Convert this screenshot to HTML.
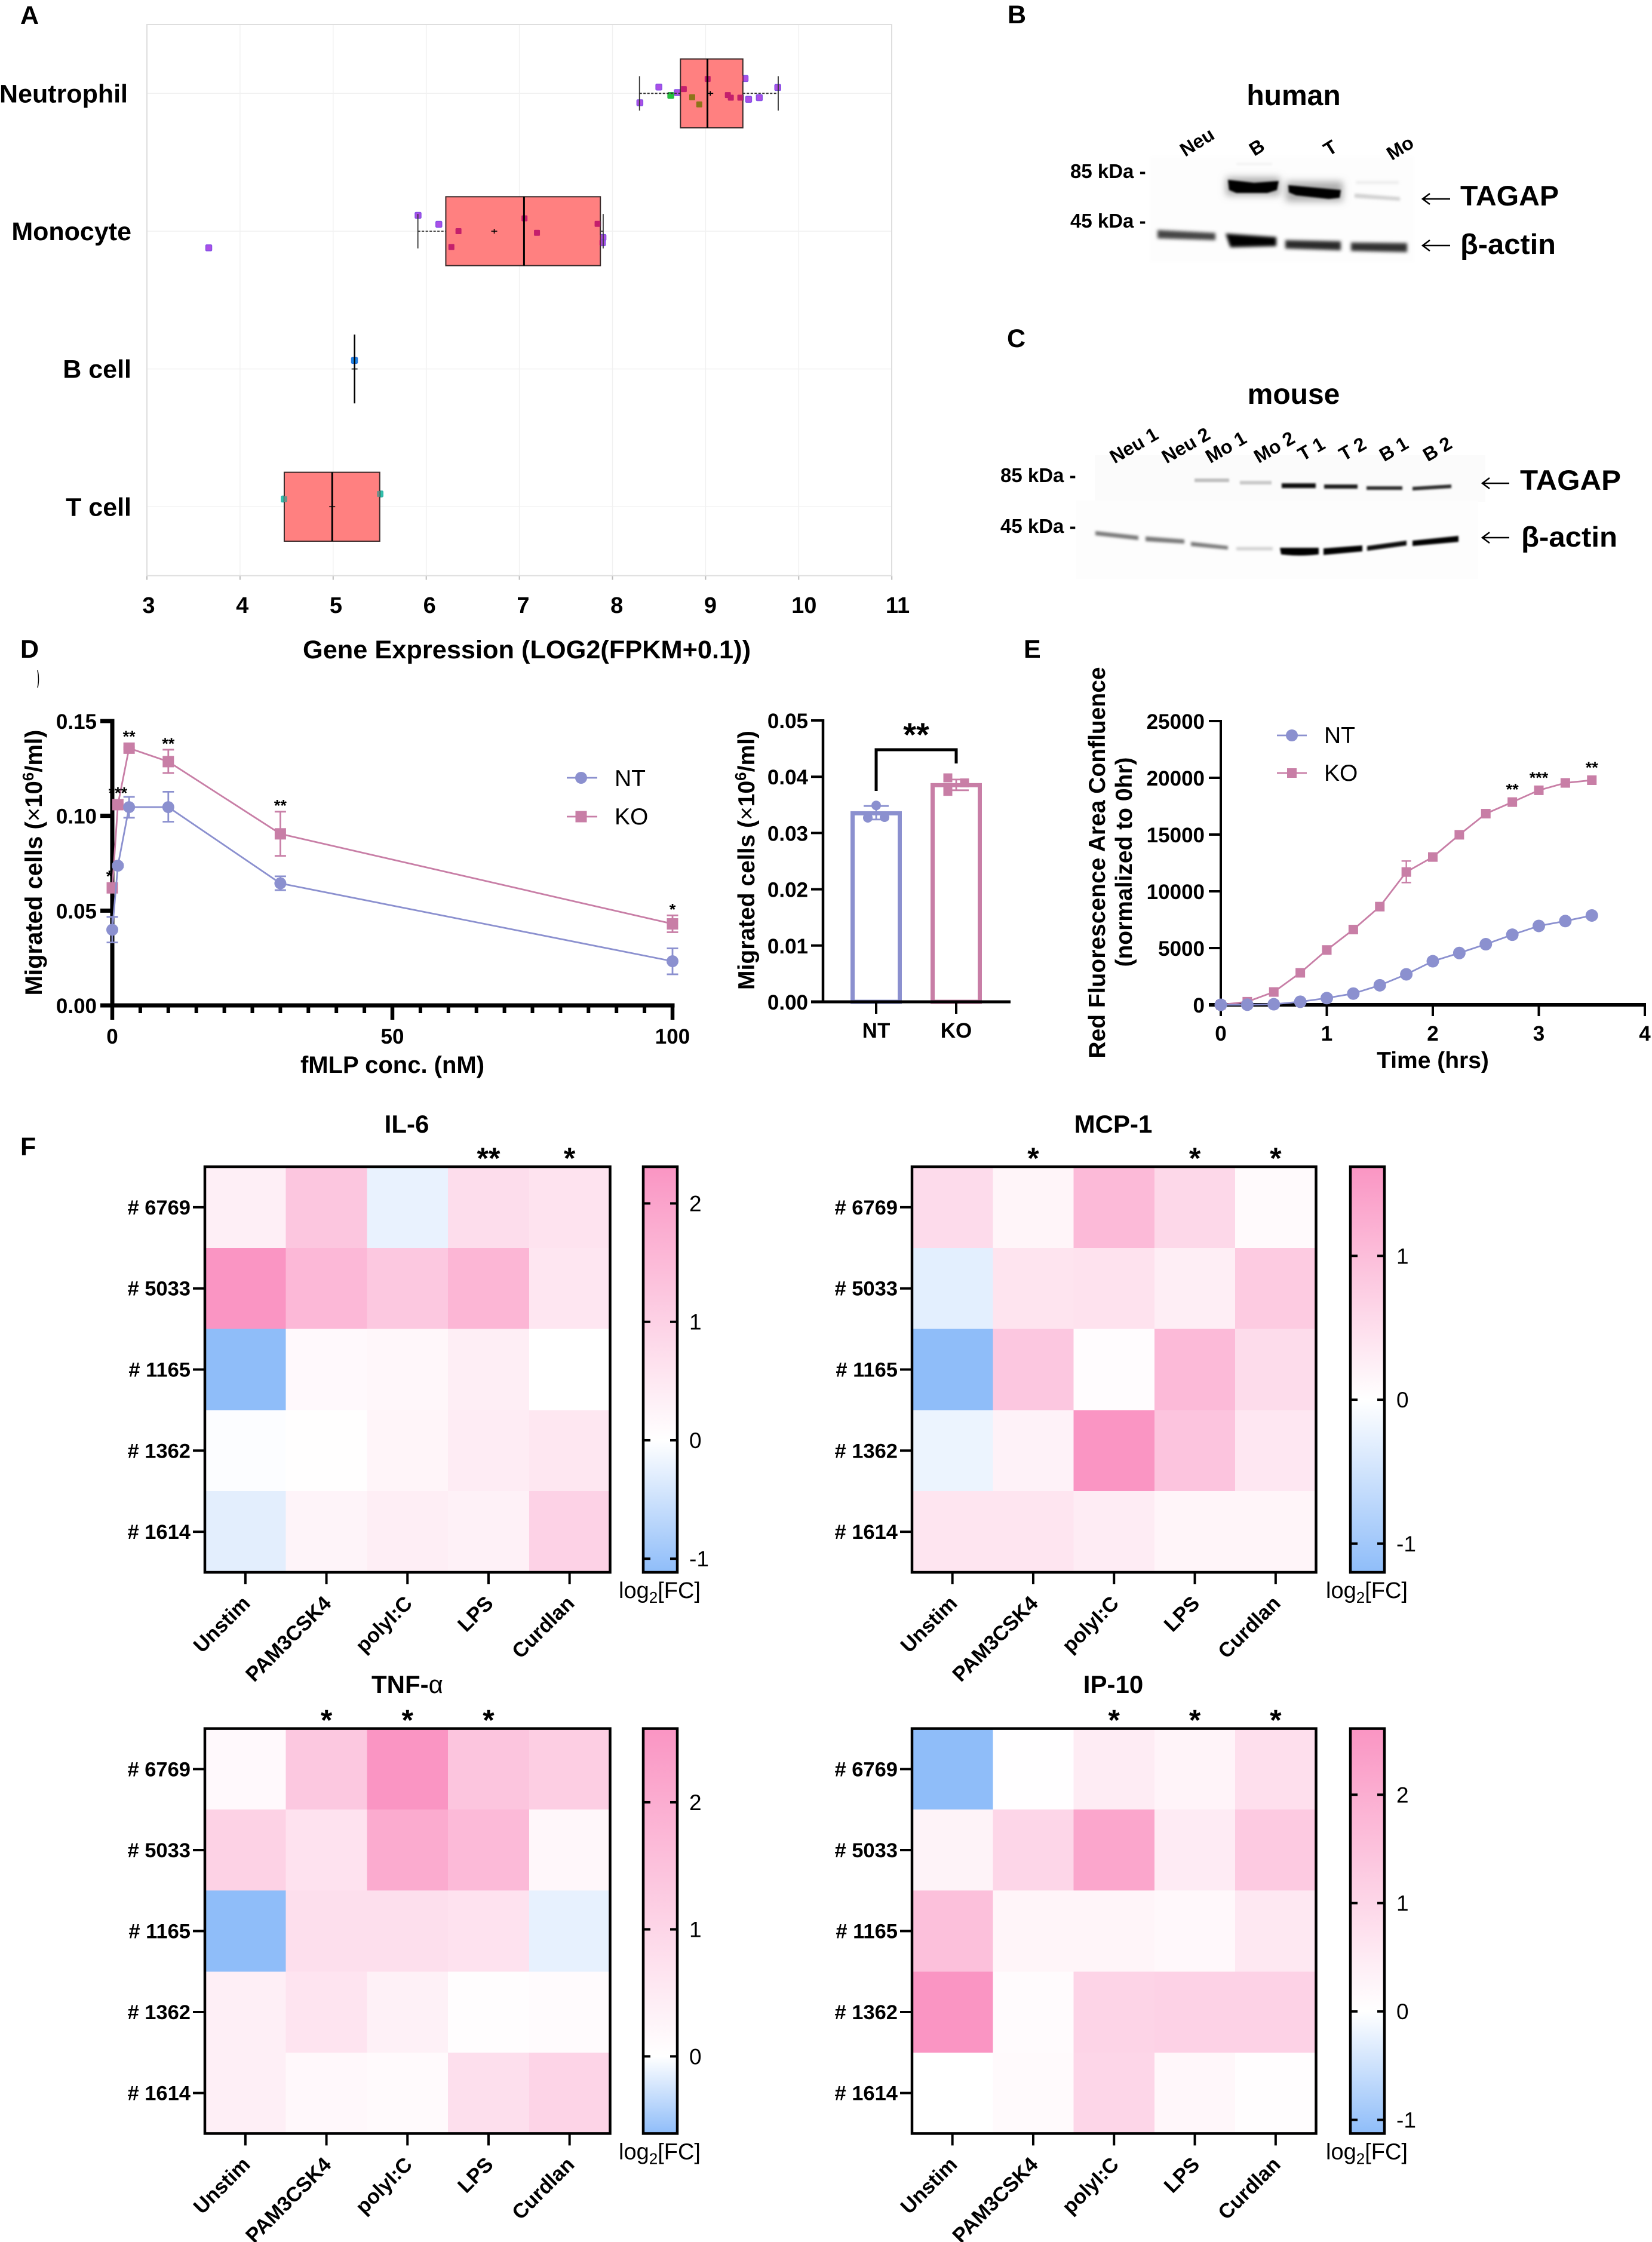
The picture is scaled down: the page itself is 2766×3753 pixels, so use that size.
<!DOCTYPE html>
<html lang="en">
<head>
<meta charset="utf-8">
<title>TAGAP expression figure</title>
<style>
html,body{margin:0;padding:0;background:#fff;}
svg{display:block;font-family:"Liberation Sans",Arial,sans-serif;}
text{fill:#000;}
.b{font-weight:700;}
</style>
</head>
<body>
<svg id="fig" xmlns="http://www.w3.org/2000/svg" width="2766" height="3753" viewBox="0 0 2766 3753">
<defs>
<filter id="blur1" x="-20%" y="-100%" width="140%" height="300%"><feGaussianBlur stdDeviation="1.6"/></filter>
<filter id="blur2" x="-20%" y="-150%" width="140%" height="400%"><feGaussianBlur stdDeviation="2.2"/></filter>
<filter id="blur3" x="-20%" y="-150%" width="140%" height="400%"><feGaussianBlur stdDeviation="3"/></filter>
<filter id="blur6" x="-20%" y="-200%" width="140%" height="500%"><feGaussianBlur stdDeviation="6"/></filter>
</defs>
<rect width="2766" height="3753" fill="#fff"/>

<text class="b" x="34" y="40" font-size="43">A</text>
<text class="b" x="1687" y="39" font-size="43">B</text>
<text class="b" x="1686" y="581" font-size="43">C</text>
<text class="b" x="34" y="1101" font-size="43">D</text>
<text class="b" x="1714" y="1101" font-size="43">E</text>
<text class="b" x="34" y="1934" font-size="43">F</text>

<g id="panelA"></g>
<text class="b" x="882" y="1102" font-size="43" text-anchor="middle" textLength="750" lengthAdjust="spacingAndGlyphs">Gene Expression (LOG2(FPKM+0.1))</text>

<g>
  <rect x="1925" y="262" width="443" height="177" fill="#fdfdfd" filter="url(#blur3)"/>
  <text class="b" x="2166" y="176" font-size="48" text-anchor="middle">human</text>
  <text class="b" font-size="32" text-anchor="middle" transform="translate(2010,247) rotate(-32)">Neu</text>
  <text class="b" font-size="32" text-anchor="middle" transform="translate(2110,256) rotate(-32)">B</text>
  <text class="b" font-size="32" text-anchor="middle" transform="translate(2233,257) rotate(-32)">T</text>
  <text class="b" font-size="32" text-anchor="middle" transform="translate(2350,257) rotate(-32)">Mo</text>
  <text class="b" x="1792" y="298" font-size="33">85 kDa -</text>
  <text class="b" x="1792" y="381" font-size="33">45 kDa -</text>
  <g>
    <path d="M2053 297H2143V327H2053Z" fill="#aaa" filter="url(#blur6)"/>
    <path d="M2153 304H2248V337H2153Z" fill="#aaa" filter="url(#blur6)"/>
    <path d="M2056 301 L2100 306 L2141 303 L2138 318 L2122 323 L2070 323 L2058 318Z" fill="#000" filter="url(#blur1)"/>
    <path d="M2157 310 L2200 314 L2245 318 L2243 331 L2225 333 L2170 327 L2158 322Z" fill="#000" filter="url(#blur1)"/>
    <rect x="2270" y="303" width="72" height="5" fill="#ececec" filter="url(#blur2)"/>
    <path d="M2268 324 L2344 330 L2344 336 L2268 331Z" fill="#d0d0d0" filter="url(#blur2)"/>
    <rect x="2070" y="273" width="60" height="3" fill="#f0f0f0" filter="url(#blur1)"/>
  </g>
  <g>
    <path d="M1938 385 L2035 390 L2035 402 L1938 399Z" fill="#444" filter="url(#blur3)"/>
    <path d="M2052 391 L2137 397 L2137 412 L2060 414Z" fill="#000" filter="url(#blur3)"/>
    <path d="M2152 402 L2245 404 L2245 419 L2152 416Z" fill="#2a2a2a" filter="url(#blur3)"/>
    <path d="M2262 406 L2356 407 L2356 422 L2262 420Z" fill="#333" filter="url(#blur3)"/>
  </g>
  <path d="M2428 333H2383M2394 324L2382 333L2394 342" fill="none" stroke="#000" stroke-width="2.6"/>
  <path d="M2428 411H2383M2394 402L2382 411L2394 420" fill="none" stroke="#000" stroke-width="2.6"/>
  <text class="b" x="2445" y="344" font-size="47" textLength="165" lengthAdjust="spacingAndGlyphs">TAGAP</text>
  <text class="b" x="2445" y="425" font-size="47" textLength="160" lengthAdjust="spacingAndGlyphs">β-actin</text>
</g>

<g>
  <rect x="1833" y="762" width="654" height="78" fill="#fbfbfb"/>
  <rect x="1802" y="838" width="673" height="131" fill="#fdfdfd"/>
  <text class="b" x="2166" y="676" font-size="48" text-anchor="middle">mouse</text>
  <text class="b" font-size="32" text-anchor="middle" transform="translate(1904,755) rotate(-30)">Neu 1</text>
  <text class="b" font-size="32" text-anchor="middle" transform="translate(1991,755) rotate(-30)">Neu 2</text>
  <text class="b" font-size="32" text-anchor="middle" transform="translate(2058,758) rotate(-30)">Mo 1</text>
  <text class="b" font-size="32" text-anchor="middle" transform="translate(2139,758) rotate(-30)">Mo 2</text>
  <text class="b" font-size="32" text-anchor="middle" transform="translate(2201,761) rotate(-30)">T 1</text>
  <text class="b" font-size="32" text-anchor="middle" transform="translate(2270,761) rotate(-30)">T 2</text>
  <text class="b" font-size="32" text-anchor="middle" transform="translate(2339,761) rotate(-30)">B 1</text>
  <text class="b" font-size="32" text-anchor="middle" transform="translate(2412,761) rotate(-30)">B 2</text>
  <text class="b" x="1675" y="807" font-size="33">85 kDa -</text>
  <text class="b" x="1675" y="892" font-size="33">45 kDa -</text>
  <g>
    <rect x="2000" y="801" width="58" height="6" fill="#bdbdbd" filter="url(#blur1)"/>
    <rect x="2076" y="805" width="53" height="6" fill="#c8c8c8" filter="url(#blur1)"/>
    <rect x="2146" y="809" width="57" height="8" fill="#111" filter="url(#blur1)"/>
    <rect x="2217" y="811" width="56" height="7" fill="#1c1c1c" filter="url(#blur1)"/>
    <rect x="2288" y="814" width="60" height="6" fill="#2a2a2a" filter="url(#blur1)"/>
    <path d="M2365 815L2430 811V817L2365 821Z" fill="#2a2a2a" filter="url(#blur1)"/>
  </g>
  <g>
    <path d="M1834 889L1906 897V904L1834 896Z" fill="#777" filter="url(#blur2)"/>
    <path d="M1918 898L1983 903V910L1918 906Z" fill="#777" filter="url(#blur2)"/>
    <path d="M1994 907L2056 914V920L1994 914Z" fill="#777" filter="url(#blur2)"/>
    <rect x="2070" y="916" width="61" height="5" fill="#ccc" filter="url(#blur2)"/>
    <path d="M2143 917H2208V928Q2175 932 2145 928Z" fill="#000" filter="url(#blur1)"/>
    <path d="M2216 918L2281 913V923L2216 929Z" fill="#000" filter="url(#blur1)"/>
    <path d="M2289 914L2355 905V913L2289 922Z" fill="#080808" filter="url(#blur1)"/>
    <path d="M2365 905L2442 897V907L2365 914Z" fill="#000" filter="url(#blur1)"/>
  </g>
  <path d="M2527 809H2483M2494 800L2482 809L2494 818" fill="none" stroke="#000" stroke-width="2.6"/>
  <path d="M2527 900H2483M2494 891L2482 900L2494 909" fill="none" stroke="#000" stroke-width="2.6"/>
  <text class="b" x="2545" y="820" font-size="47" textLength="169" lengthAdjust="spacingAndGlyphs">TAGAP</text>
  <text class="b" x="2547" y="915" font-size="47" textLength="161" lengthAdjust="spacingAndGlyphs">β-actin</text>
</g>

<path d="M63 1122q3 15 0 29" fill="none" stroke="#000" stroke-width="1.5"/>

<g id="panelD"></g>
<text class="b" font-size="40" text-anchor="middle" transform="translate(70,1444) rotate(-90)">Migrated cells (<tspan font-weight="400">×</tspan>10<tspan font-size="26" dy="-14">6</tspan><tspan dy="14">/ml)</tspan></text>
<text class="b" x="657" y="1796" font-size="40" text-anchor="middle">fMLP conc. (nM)</text>
<g>
  <line x1="949" y1="1302" x2="1000" y2="1302" stroke="#8b90cf" stroke-width="2.8"/>
  <circle cx="973" cy="1302" r="10" fill="#8b90cf"/>
  <text x="1029" y="1316" font-size="39">NT</text>
  <line x1="949" y1="1367" x2="1000" y2="1367" stroke="#c87ea6" stroke-width="2.8"/>
  <rect x="963.500" y="1357.500" width="19" height="19" fill="#c87ea6"/>
  <text x="1029" y="1380" font-size="39">KO</text>
</g>

<g id="panelBar"></g>
<text class="b" font-size="39" text-anchor="middle" transform="translate(1263,1440) rotate(-90)">Migrated cells (<tspan font-weight="400">×</tspan>10<tspan font-size="26" dy="-14">6</tspan><tspan dy="14">/ml)</tspan></text>

<g id="panelE"></g>
<text class="b" font-size="39" text-anchor="middle" transform="translate(1850,1444) rotate(-90)">Red Fluorescence Area Confluence</text>
<text class="b" font-size="39" text-anchor="middle" transform="translate(1895,1443) rotate(-90)">(normalized to 0hr)</text>
<text class="b" x="2399" y="1788" font-size="39" text-anchor="middle">Time (hrs)</text>
<g>
  <line x1="2138" y1="1231" x2="2188" y2="1231" stroke="#8b90cf" stroke-width="2.8"/>
  <circle cx="2163" cy="1231" r="10" fill="#8b90cf"/>
  <text x="2217" y="1244" font-size="39">NT</text>
  <line x1="2138" y1="1294" x2="2188" y2="1294" stroke="#c87ea6" stroke-width="2.8"/>
  <rect x="2155" y="1286" width="16" height="16" fill="#c87ea6"/>
  <text x="2217" y="1307" font-size="39">KO</text>
</g>

<g id="heatIL6"></g>
<g id="heatMCP"></g>
<g id="heatTNF"></g>
<g id="heatIP"></g>
<text class="b" x="681" y="1896" font-size="42" text-anchor="middle">IL-6</text>
<text class="b" x="1864" y="1896" font-size="42" text-anchor="middle">MCP-1</text>
<text class="b" x="682" y="2834" font-size="42" text-anchor="middle">TNF-<tspan font-weight="400">α</tspan></text>
<text class="b" x="1864" y="2834" font-size="42" text-anchor="middle">IP-10</text>

<script>
// ---------- Panel A data ----------
const boxCategories = ['Neutrophil', 'Monocyte', 'B cell', 'T cell'];
const boxQ1 = [8.73, 6.21, 5.23, 4.475];
const boxMedian = [9.02, 7.05, 5.23, 4.99];
const boxQ3 = [9.40, 7.87, 5.23, 5.50];
const boxLow = [8.29, 5.91, 5.23, 4.475];
const boxHigh = [9.78, 7.90, 5.23, 5.50];
const boxMean = [9.05, 6.73, 5.23, 4.99];
const boxTicks = [3, 4, 5, 6, 7, 8, 9, 10, 11];
const neutrophilValues = [8.294, 8.498, 8.696, 8.626, 8.766, 8.856, 8.932, 9.022, 9.239, 9.271, 9.373, 9.424, 9.462, 9.577, 9.775];
const neutrophilJitter = [0.068, -0.046, -0.006, 0.015, -0.031, 0.028, 0.08, -0.105, 0.012, 0.031, 0.031, -0.108, 0.043, 0.031, -0.043];
const neutrophilSource = ['p', 'p', 'p', 'g', 'p', 'g', 'g', 'p', 'p', 'p', 'p', 'p', 'p', 'p', 'p'];
const monocyteValues = [3.664, 5.912, 6.135, 6.346, 6.27, 7.055, 7.189, 7.84, 7.898, 7.892];
const monocyteJitter = [0.121, -0.115, -0.05, 0, 0.115, -0.093, 0.012, -0.053, 0.046, 0.084];
const monocyteSource = ['p', 'p', 'p', 'p', 'p', 'p', 'p', 'p', 'p', 'p'];
const bCellValues = [5.229];
const bCellJitter = [-0.062];
const bCellSource = ['b'];
const tCellValues = [4.475, 5.503];
const tCellJitter = [-0.056, -0.093];
const tCellSource = ['t', 't'];

// ---------- Panel D line chart data ----------
const doseValues = [0, 1, 3, 10, 30, 100];
const doseNT = [0.0399, 0.0737, 0.1046, 0.1046, 0.0644, 0.0233];
const doseNTHigh = [0.0467, 0.0745, 0.110, 0.1127, 0.0681, 0.0301];
const doseNTLow = [0.0332, 0.0729, 0.099, 0.0969, 0.0608, 0.0164];
const doseKO = [0.062, 0.1059, 0.1357, 0.1286, 0.0905, 0.043];
const doseKOHigh = [0.0625, 0.1065, 0.1362, 0.1349, 0.1022, 0.0475];
const doseKOLow = [0.0615, 0.1053, 0.1352, 0.1226, 0.0789, 0.0386];
const doseStars = ['*', '***', '**', '**', '**', '*'];
const doseYTicks = [0, 0.05, 0.10, 0.15];
const doseYTickLabels = ['0.00', '0.05', '0.10', '0.15'];
const doseXTicks = [0, 50, 100];

// ---------- Panel D bar chart data ----------
const barCategories = ['NT', 'KO'];
const barValues = [0.0335, 0.0385];
const barHigh = [0.0348, 0.0395];
const barLow = [0.0324, 0.0376];
const barPointsNT = [0.0349, 0.0327, 0.0328];
const barPointsKO = [0.0398, 0.0374, 0.0389];
const barYTicks = [0, 0.01, 0.02, 0.03, 0.04, 0.05];
const barYTickLabels = ['0.00', '0.01', '0.02', '0.03', '0.04', '0.05'];

// ---------- Panel E data ----------
const timeValues = [0, 0.25, 0.5, 0.75, 1, 1.25, 1.5, 1.75, 2, 2.25, 2.5, 2.75, 3, 3.25, 3.5];
const timeNT = [0, 10, 50, 270, 590, 990, 1720, 2685, 3840, 4565, 5340, 6175, 6950, 7380, 7870];
const timeKO = [0, 270, 1130, 2820, 4830, 6630, 8650, 11700, 13020, 14980, 16840, 17860, 18900, 19550, 19790];
const timeKOHigh = [0, 270, 1130, 2820, 4830, 6630, 8650, 12670, 13020, 14980, 16840, 17860, 18900, 19550, 19790];
const timeKOLow = [0, 270, 1130, 2820, 4830, 6630, 8650, 10770, 13020, 14980, 16840, 17860, 18900, 19550, 19790];
const timeStars = ['', '', '', '', '', '', '', '', '', '', '', '**', '***', '', '**'];
const timeYTicks = [0, 5000, 10000, 15000, 20000, 25000];
const timeXTicks = [0, 1, 2, 3, 4];

// ---------- Panel F data ----------
const heatRows = ['# 6769', '# 5033', '# 1165', '# 1362', '# 1614'];
const heatCols = ['Unstim', 'PAM3CSK4', 'polyI:C', 'LPS', 'Curdlan'];
const il6Values = [
  [0.35, 1.25, -0.22, 0.75, 0.62],
  [2.31, 1.55, 1.2, 1.6, 0.55],
  [-1.115, 0.12, 0.18, 0.38, 0],
  [-0.03, 0.03, 0.22, 0.42, 0.52],
  [-0.28, 0.25, 0.38, 0.3, 0.97]
];
const il6Domain = [-1.115, 2.31];
const il6Stars = ['', '', '', '**', '*'];
const il6Ticks = [-1, 0, 1, 2];
const mcpValues = [
  [0.55, 0.15, 1.05, 0.6, 0.07],
  [-0.3, 0.42, 0.45, 0.26, 0.8],
  [-1.2, 0.85, 0.04, 1.05, 0.53],
  [-0.2, 0.2, 1.62, 0.9, 0.36],
  [0.4, 0.4, 0.29, 0.16, 0.16]
];
const mcpDomain = [-1.2, 1.62];
const mcpStars = ['', '*', '', '*', '*'];
const mcpTicks = [-1, 0, 1];
const tnfValues = [
  [0.15, 1.35, 2.58, 1.4, 1.2],
  [1.1, 0.7, 2.05, 1.68, 0.2],
  [-0.607, 0.78, 0.78, 0.7, -0.13],
  [0.38, 0.65, 0.33, 0.06, 0.1],
  [0.4, 0.18, 0.13, 0.78, 1.05]
];
const tnfDomain = [-0.607, 2.58];
const tnfStars = ['', '*', '*', '*', ''];
const tnfTicks = [0, 1, 2];
const ipValues = [
  [-1.126, 0.02, 0.47, 0.26, 0.78],
  [0.3, 1.0, 2.2, 0.5, 1.3],
  [1.55, 0.25, 0.25, 0.18, 0.57],
  [2.61, 0.1, 1.05, 1.1, 1.1],
  [0, 0.12, 1.0, 0.2, 0.04]
];
const ipDomain = [-1.126, 2.61];
const ipStars = ['', '', '*', '*', '*'];
const ipTicks = [-1, 0, 1, 2];

// ---------- helpers ----------
const NS = 'http://www.w3.org/2000/svg';
function mk(tag, attrs, parent) {
  const el = document.createElementNS(NS, tag);
  for (const k in attrs) el.setAttribute(k, attrs[k]);
  parent.appendChild(el);
  return el;
}
function line(parent, x1, y1, x2, y2, w, col, name) {
  const el = mk('line', {x1: x1, y1: y1, x2: x2, y2: y2, stroke: col, 'stroke-width': w}, parent);
  
  
  return el;
}
function label(parent, x, y, str, fs, anchor, bold, name) {
  const el = mk('text', {x: x, y: y, 'font-size': fs, 'text-anchor': anchor, 'font-weight': bold ? 700 : 400}, parent);
  el.textContent = str;
  
  
  return el;
}
const NT_COLOR = '#8b90cf';
const KO_COLOR = '#c87ea6';

// ---------- Panel A ----------
(function () {
  const g = document.getElementById('panelA');
  const xA = v => 246 + (v - 3) * 155.9;
  const top = 41, bottom = 963.6, left = 246, right = 1493;
  const band = (bottom - top) / boxCategories.length;
  const yA = i => top + (i + 0.5) * band;
  boxTicks.forEach(t => {
    line(g, xA(t), top, xA(t), bottom, 1.5, '#f1f1f1', 'x-gridline');
    line(g, xA(t), bottom, xA(t), bottom + 7, 2, '#bbb', 'x-tick');
    label(g, xA(t) + 3 + (t - 3) * 0.85, 1026, String(t), 38, 'middle', true, 'x-tick-label');
  });
  boxCategories.forEach((c, i) => {
    line(g, left, yA(i), right, yA(i), 1.5, '#f1f1f1', 'y-gridline');
    label(g, i === 0 ? 214 : 220, yA(i) + 15, c, 43, 'end', true, 'category-label');
  });
  const frame = mk('rect', {x: left, y: top, width: right - left, height: bottom - top, fill: 'none', stroke: '#dedede', 'stroke-width': 2}, g);
  
  

  const sets = [
    [neutrophilValues, neutrophilJitter, neutrophilSource],
    [monocyteValues, monocyteJitter, monocyteSource],
    [bCellValues, bCellJitter, bCellSource],
    [tCellValues, tCellJitter, tCellSource]
  ];
  const fills = {p: '#ad4fe6', g: '#22c43a', b: '#1e8ae8', t: '#2fc4ad'};
  const strokes = {p: '#8450e6', g: '#2cb04a', b: '#2a78e0', t: '#33b4a8'};
  const inside = {p: '#c41f6c', g: '#8d7418', b: '#555', t: '#6d8f88'};
  sets.forEach((s, i) => {
    s[0].forEach((v, j) => {
      const p = mk('rect', {x: xA(v) - 5, y: yA(i) + s[1][j] * band - 5, width: 10, height: 10, rx: 1.5, fill: fills[s[2][j]], stroke: strokes[s[2][j]], 'stroke-width': 1.5}, g);
      
      
    });
  });
  const defs = g.ownerSVGElement.querySelector('defs');
  boxCategories.forEach((c, i) => {
    const cy = yA(i), h = band * 0.25;
    if (boxQ3[i] > boxQ1[i]) {
      const b = mk('rect', {x: xA(boxQ1[i]), y: cy - h, width: xA(boxQ3[i]) - xA(boxQ1[i]), height: 2 * h, fill: '#ff8080', stroke: '#3a2a2a', 'stroke-width': 2}, g);
      
      
      const clip = mk('clipPath', {id: 'boxClip' + i}, defs);
      mk('rect', {x: xA(boxQ1[i]), y: cy - h, width: xA(boxQ3[i]) - xA(boxQ1[i]), height: 2 * h}, clip);
      const s = sets[i];
      s[0].forEach((v, j) => {
        const px = xA(v);
        if (px + 6 > xA(boxQ1[i]) && px - 6 < xA(boxQ3[i])) {
          const p = mk('rect', {x: px - 5, y: cy + s[1][j] * band - 5, width: 10, height: 10, rx: 1.5, fill: inside[s[2][j]], 'clip-path': 'url(#boxClip' + i + ')'}, g);
          
          
        }
      });
    }
    line(g, xA(boxMedian[i]), cy - h, xA(boxMedian[i]), cy + h, boxQ3[i] > boxQ1[i] ? 3 : 2.5, '#000', 'box-median');
    if (boxLow[i] < boxQ1[i]) {
      line(g, xA(boxLow[i]), cy, xA(boxQ1[i]), cy, 1.8, '#333', 'whisker-low').setAttribute('stroke-dasharray', '4 2.5');
      line(g, xA(boxLow[i]), cy - h / 2, xA(boxLow[i]), cy + h / 2, 1.8, '#333', 'whisker-cap-low');
    }
    if (boxHigh[i] > boxQ3[i]) {
      line(g, xA(boxQ3[i]), cy, xA(boxHigh[i]), cy, 1.8, '#333', 'whisker-high').setAttribute('stroke-dasharray', '4 2.5');
      line(g, xA(boxHigh[i]), cy - h / 2, xA(boxHigh[i]), cy + h / 2, 1.8, '#333', 'whisker-cap-high');
    }
    line(g, xA(boxMean[i]) - 5, cy, xA(boxMean[i]) + 5, cy, 1.6, '#000', 'mean-marker-h');
    line(g, xA(boxMean[i]), cy - 4, xA(boxMean[i]), cy + 4, 1.6, '#000', 'mean-marker-v');
  });
})();

// ---------- Panel D line chart ----------
(function () {
  const g = document.getElementById('panelD');
  const xD = v => 188 + v * 9.38;
  const yD = v => 1683 - v * 3173.3;
  line(g, 188, yD(0.15) - 3.5, 188, 1686.5, 7, '#000', 'y-axis');
  line(g, 168, 1683, 1129.5, 1683, 7, '#000', 'x-axis');
  doseYTicks.forEach((t, i) => {
    line(g, 168, yD(t), 188, yD(t), 7, '#000', 'y-tick');
    label(g, 162, yD(t) + 13, doseYTickLabels[i], 35, 'end', true, 'y-tick-label');
  });
  for (let t = 5; t < 100; t += 5) {
    if (t !== 50) line(g, xD(t), 1683, xD(t), 1696, 6, '#000', 'x-minor-tick');
  }
  doseXTicks.forEach(t => {
    line(g, xD(t), 1683, xD(t), 1707, 6.5, '#000', 'x-tick');
    label(g, xD(t), 1747, String(t), 35, 'middle', true, 'x-tick-label');
  });
  function series(vals, hi, lo, color, isSquare, nm) {
    const d = vals.map((v, i) => (i ? 'L' : 'M') + xD(doseValues[i]) + ' ' + yD(v)).join('');
    const p = mk('path', {d: d, fill: 'none', stroke: color, 'stroke-width': 2.8}, g);
    
    
    vals.forEach((v, i) => {
      const x = xD(doseValues[i]);
      line(g, x, yD(hi[i]), x, yD(lo[i]), 2.8, color, nm + '-error-bar');
      line(g, x - 9.5, yD(hi[i]), x + 9.5, yD(hi[i]), 2.8, color, nm + '-error-cap');
      line(g, x - 9.5, yD(lo[i]), x + 9.5, yD(lo[i]), 2.8, color, nm + '-error-cap');
    });
    vals.forEach((v, i) => {
      const x = xD(doseValues[i]);
      let m;
      if (isSquare) {
        m = mk('rect', {x: x - 9.5, y: yD(v) - 9.5, width: 19, height: 19, fill: color}, g);
      } else {
        m = mk('circle', {cx: x, cy: yD(v), r: 10, fill: color}, g);
      }
      
      
    });
  }
  series(doseKO, doseKOHigh, doseKOLow, KO_COLOR, true, 'ko');
  series(doseNT, doseNTHigh, doseNTLow, NT_COLOR, false, 'nt');
  doseKO.forEach((v, i) => {
    const top = Math.min(yD(doseKOHigh[i]), yD(v) - 9.5);
    const x = i === 0 ? xD(doseValues[i]) - 5 : xD(doseValues[i]);
    label(g, x, top - 1, doseStars[i], 27, 'middle', true, 'significance-stars');
  });
})();

// ---------- Panel D bar chart ----------
(function () {
  const g = document.getElementById('panelBar');
  const yB = v => 1677 - v * 9420;
  const xB = i => 1467 + i * 134;
  const colors = [NT_COLOR, KO_COLOR];
  const pointSets = [barPointsNT, barPointsKO];
  const jitterSign = [[0, -1, 1], [-1, -1, 1]];
  barCategories.forEach((c, i) => {
    const b = mk('rect', {x: xB(i) - 39.5, y: yB(barValues[i]), width: 79, height: 1677 - yB(barValues[i]), fill: '#fff', stroke: colors[i], 'stroke-width': 7}, g);
    
    
  });
  barCategories.forEach((c, i) => {
    line(g, xB(i), yB(barHigh[i]), xB(i), yB(barLow[i]), 2.8, colors[i], 'bar-error');
    line(g, xB(i) - 21, yB(barHigh[i]), xB(i) + 21, yB(barHigh[i]), 2.8, colors[i], 'bar-error-cap');
    line(g, xB(i) - 21, yB(barLow[i]), xB(i) + 21, yB(barLow[i]), 2.8, colors[i], 'bar-error-cap');
    pointSets[i].forEach((v, j) => {
      const x = xB(i) + jitterSign[i][j] * 14;
      let m;
      if (i === 0) {
        m = mk('circle', {cx: x, cy: yB(v), r: 8, fill: colors[i]}, g);
      } else {
        m = mk('rect', {x: x - 7.5, y: yB(v) - 7.5, width: 15, height: 15, fill: colors[i]}, g);
      }
      
      
    });
    line(g, xB(i), 1677, xB(i), 1697, 4, '#000', 'x-tick');
    label(g, xB(i), 1737, c, 35, 'middle', true, 'x-tick-label');
  });
  line(g, 1378, yB(0.05) - 2, 1378, 1679, 4.5, '#000', 'y-axis');
  line(g, 1358, 1677, 1692, 1677, 5, '#000', 'x-axis');
  barYTicks.forEach((t, i) => {
    line(g, 1358, yB(t), 1378, yB(t), 4, '#000', 'y-tick');
    label(g, 1353, yB(t) + 13, barYTickLabels[i], 35, 'end', true, 'y-tick-label');
  });
  const br = mk('path', {d: 'M' + xB(0) + ' 1324V1255H' + (xB(1)) + 'V1278', fill: 'none', stroke: '#000', 'stroke-width': 5}, g);
  
  
  label(g, 1534, 1249, '**', 56, 'middle', true, 'significance-stars');
})();

// ---------- Panel E ----------
(function () {
  const g = document.getElementById('panelE');
  const xE = v => 2044 + v * 177.5;
  const yE = v => 1682 - v * 0.019;
  line(g, 2044, yE(25000) - 2, 2044, 1684, 4, '#000', 'y-axis');
  line(g, 2024, 1682, 2756, 1682, 6, '#000', 'x-axis');
  timeYTicks.forEach(t => {
    line(g, 2024, yE(t), 2044, yE(t), 4, '#000', 'y-tick');
    label(g, 2017, yE(t) + 13, String(t), 35, 'end', true, 'y-tick-label');
  });
  timeXTicks.forEach(t => {
    line(g, xE(t), 1682, xE(t), 1701, 4, '#000', 'x-tick');
    label(g, xE(t), 1742, String(t), 35, 'middle', true, 'x-tick-label');
  });
  const koPath = timeKO.map((v, i) => (i ? 'L' : 'M') + xE(timeValues[i]) + ' ' + yE(v)).join('');
  const koLine = mk('path', {d: koPath, fill: 'none', stroke: KO_COLOR, 'stroke-width': 2.8}, g);
  
  
  timeKO.forEach((v, i) => {
    const x = xE(timeValues[i]);
    if (timeKOHigh[i] !== timeKOLow[i]) {
      line(g, x, yE(timeKOHigh[i]), x, yE(timeKOLow[i]), 2.4, KO_COLOR, 'ko-error-bar');
      line(g, x - 8, yE(timeKOHigh[i]), x + 8, yE(timeKOHigh[i]), 2.4, KO_COLOR, 'ko-error-cap');
      line(g, x - 8, yE(timeKOLow[i]), x + 8, yE(timeKOLow[i]), 2.4, KO_COLOR, 'ko-error-cap');
    }
    const m = mk('rect', {x: x - 8, y: yE(v) - 8, width: 16, height: 16, fill: KO_COLOR}, g);
    
    
  });
  const ntPath = timeNT.map((v, i) => (i ? 'L' : 'M') + xE(timeValues[i]) + ' ' + yE(v)).join('');
  const ntLine = mk('path', {d: ntPath, fill: 'none', stroke: NT_COLOR, 'stroke-width': 2.8}, g);
  
  
  timeNT.forEach((v, i) => {
    const m = mk('circle', {cx: xE(timeValues[i]), cy: yE(v), r: 10.5, fill: NT_COLOR}, g);
    
    
  });
  timeStars.forEach((s, i) => {
    if (s) label(g, xE(timeValues[i]), yE(timeKO[i]) - 12, s, 27, 'middle', true, 'significance-stars');
  });
})();

// ---------- Panel F ----------
const PINK = [250, 149, 195];
const BLUE = [143, 189, 249];
function heatColor(v, domain) {
  const f = v >= 0 ? Math.min(1, v / domain[1]) : Math.min(1, v / domain[0]);
  const t = v >= 0 ? PINK : BLUE;
  const c = t.map(ch => Math.round(255 + (ch - 255) * f));
  return 'rgb(' + c.join(',') + ')';
}
function heatmap(id, x0, x1, y0, y1, barL, values, domain, stars, ticks) {
  const g = document.getElementById(id);
  const cw = (x1 - x0) / heatCols.length;
  const ch = (y1 - y0) / heatRows.length;
  values.forEach((row, r) => {
    row.forEach((v, c) => {
      const cell = mk('rect', {x: x0 + c * cw, y: y0 + r * ch, width: cw + 0.5, height: ch + 0.5, fill: heatColor(v, domain), 'shape-rendering': 'crispEdges'}, g);
      
      
    });
  });
  const frame = mk('rect', {x: x0, y: y0, width: x1 - x0, height: y1 - y0, fill: 'none', stroke: '#000', 'stroke-width': 4.5}, g);
  
  
  heatRows.forEach((lab, r) => {
    const y = y0 + (r + 0.5) * ch;
    line(g, x0 - 20, y, x0, y, 4, '#000', 'row-tick');
    label(g, x0 - 24, y + 12, lab, 34.5, 'end', true, 'row-label');
  });
  heatCols.forEach((lab, c) => {
    const x = x0 + (c + 0.5) * cw;
    line(g, x, y1, x, y1 + 20, 4, '#000', 'column-tick');
    const t = label(g, 0, 0, lab, 34.5, 'end', true, 'column-label');
    t.setAttribute('transform', 'translate(' + (x + 10) + ',' + (y1 + 54) + ') rotate(-45)');
    if (stars[c]) label(g, x, y0 - 25 + 0.58 * 50 - 1, stars[c], 50, 'middle', true, 'significance-stars');
  });
  const barW = 57, barR = barL + barW;
  const vMax = domain[1], vMin = domain[0];
  const yV = v => y0 + (vMax - v) / (vMax - vMin) * (y1 - y0);
  const defs = g.ownerSVGElement.querySelector('defs');
  const grad = mk('linearGradient', {id: id + 'Grad', x1: 0, y1: 0, x2: 0, y2: 1}, defs);
  [[vMax], [0], [vMin]].forEach(a => {
    mk('stop', {offset: (yV(a[0]) - y0) / (y1 - y0), 'stop-color': heatColor(a[0], domain)}, grad);
  });
  const bar = mk('rect', {x: barL, y: y0, width: barW, height: y1 - y0, fill: 'url(#' + id + 'Grad)', stroke: '#000', 'stroke-width': 4.5}, g);
  
  
  ticks.forEach(t => {
    const y = yV(t);
    line(g, barL, y, barL + 12, y, 4, '#000', 'colorbar-tick');
    line(g, barR - 12, y, barR, y, 4, '#000', 'colorbar-tick');
    label(g, barR + 20, y + 13, String(t), 37, 'start', false, 'colorbar-tick-label');
  });
  const lg = label(g, barL + barW / 2 - 1, y1 + 43, 'log', 38, 'middle', false, 'colorbar-title');
  const sub = mk('tspan', {'font-size': 26, dy: 8}, lg);
  sub.textContent = '2';
  
  
  const rest = mk('tspan', {dy: -8}, lg);
  rest.textContent = '[FC]';
  
  
}
heatmap('heatIL6', 343, 1021.5, 1953, 2632, 1077, il6Values, il6Domain, il6Stars, il6Ticks);
heatmap('heatMCP', 1527, 2203.5, 1953, 2632, 2261, mcpValues, mcpDomain, mcpStars, mcpTicks);
heatmap('heatTNF', 343, 1021.5, 2893.6, 3571.4, 1077, tnfValues, tnfDomain, tnfStars, tnfTicks);
heatmap('heatIP', 1527, 2203.5, 2893.6, 3571.4, 2261, ipValues, ipDomain, ipStars, ipTicks);
</script>
</svg>
</body>
</html>
